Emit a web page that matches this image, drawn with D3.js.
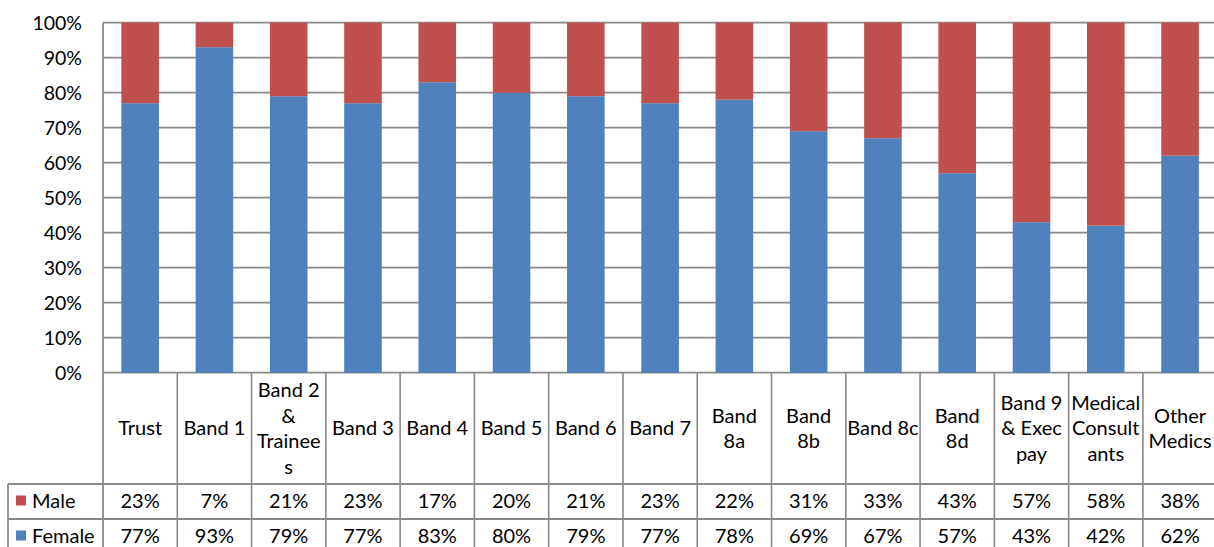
<!DOCTYPE html>
<html>
<head>
<meta charset="utf-8">
<script src="https://cdn.jsdelivr.net/npm/d3@7"></script>
<style>
  html, body { margin: 0; padding: 0; background: #fff; overflow: hidden; }
  svg { display: block; }
  text { font-family: Lato, "Noto Sans", sans-serif; fill: #000; }
</style>
</head>
<body>
<svg id="chart" width="1214" height="547"></svg>
<script>
// ---- Data ----
const categories = ["Trust", "Band 1", "Band 2 & Trainees", "Band 3", "Band 4", "Band 5", "Band 6", "Band 7",
  "Band 8a", "Band 8b", "Band 8c", "Band 8d", "Band 9 & Exec pay", "Medical Consultants", "Other Medics"];
// wrapped header lines as they appear in the table
const categoryLines = [["Trust"], ["Band 1"], ["Band 2", "&", "Trainee", "s"], ["Band 3"], ["Band 4"], ["Band 5"],
  ["Band 6"], ["Band 7"], ["Band", "8a"], ["Band", "8b"], ["Band 8c"], ["Band", "8d"], ["Band 9", "& Exec", "pay"],
  ["Medical", "Consult", "ants"], ["Other", "Medics"]];
const female = [77, 93, 79, 77, 83, 80, 79, 77, 78, 69, 67, 57, 43, 42, 62];
const male   = [23, 7, 21, 23, 17, 20, 21, 23, 22, 31, 33, 43, 57, 58, 38];
const seriesNames = ["Female", "Male"];
const seriesColors = { Female: "#4F81BD", Male: "#C0504D" };
const yTicks = [0, 10, 20, 30, 40, 50, 60, 70, 80, 90, 100];

// ---- Layout ----
const svg = d3.select("#chart");
const plotLeft = 103, plotRight = 103 + 74.28 * 15;
const plotTop = 22.7, plotBottom = 372.7;
const headerBottom = 484, rowH = 35;
const legendLeft = 8;
const gridColor = "#898989";
const axisFont = 19.5, tableFont = 20;

const x = d3.scaleBand().domain(categories).range([plotLeft, plotRight])
  .paddingInner(0.494).paddingOuter(0.247);
const y = d3.scaleLinear().domain([0, 100]).range([plotBottom, plotTop]);
const xCell = d3.scaleBand().domain(categories).range([plotLeft, plotRight]);

const rows = categories.map((c, i) => ({ cat: c, Female: female[i], Male: male[i] }));
const stack = d3.stack().keys(seriesNames)(rows);

// gridlines
svg.append("g").selectAll("line").data(yTicks).join("line")
  .attr("x1", plotLeft).attr("x2", plotRight)
  .attr("y1", d => y(d)).attr("y2", d => y(d))
  .attr("stroke", gridColor).attr("stroke-width", 1.8);

// y axis labels
svg.append("g").selectAll("text").data(yTicks).join("text")
  .attr("x", 82).attr("y", d => y(d)).attr("dy", "0.35em")
  .attr("text-anchor", "end").attr("font-size", axisFont)
  .text(d => d + "%");

// bars
svg.append("g").selectAll("g").data(stack).join("g")
  .attr("fill", d => seriesColors[d.key])
  .selectAll("rect").data(d => d).join("rect")
  .attr("x", d => x(d.data.cat))
  .attr("width", x.bandwidth())
  .attr("y", d => y(d[1]))
  .attr("height", d => y(d[0]) - y(d[1]));

// ---- Table ----
const tbl = svg.append("g");
const tableBottom = headerBottom + rowH * 2;
tbl.append("line").attr("x1", plotLeft).attr("x2", plotLeft)
  .attr("y1", plotTop).attr("y2", tableBottom)
  .attr("stroke", gridColor).attr("stroke-width", 1.8);
tbl.selectAll("line.col").data(categories.slice(1)).join("line").attr("class", "col")
  .attr("x1", d => xCell(d)).attr("x2", d => xCell(d))
  .attr("y1", plotBottom).attr("y2", tableBottom)
  .attr("stroke", gridColor).attr("stroke-width", 1.6);
[headerBottom, headerBottom + rowH].forEach(yy => {
  tbl.append("line").attr("x1", legendLeft).attr("x2", plotRight)
    .attr("y1", yy).attr("y2", yy)
    .attr("stroke", gridColor).attr("stroke-width", 1.8);
});
tbl.append("line").attr("x1", legendLeft).attr("x2", legendLeft)
  .attr("y1", headerBottom).attr("y2", tableBottom)
  .attr("stroke", gridColor).attr("stroke-width", 1.8);

// header labels
const lineH = 25.5;
const headerMid = (plotBottom + headerBottom) / 2;
categories.forEach((c, i) => {
  const lines = categoryLines[i];
  const cx = xCell(c) + xCell.bandwidth() / 2;
  const y0 = headerMid - (lines.length - 1) * lineH / 2;
  tbl.append("text").attr("text-anchor", "middle").attr("font-size", tableFont)
    .selectAll("tspan").data(lines).join("tspan")
    .attr("x", cx).attr("y", (d, j) => y0 + j * lineH).attr("dy", "0.35em")
    .text(d => d);
});

// value rows: Male, then Female
const tableRows = [{ name: "Male", values: male }, { name: "Female", values: female }];
tableRows.forEach((r, ri) => {
  const cy = headerBottom + rowH * ri + rowH / 2 - 1;
  tbl.append("rect").attr("x", 16).attr("y", cy - 5).attr("width", 10).attr("height", 10)
    .attr("fill", seriesColors[r.name]);
  tbl.append("text").attr("x", 32).attr("y", cy).attr("dy", "0.35em")
    .attr("font-size", tableFont).text(r.name);
  tbl.selectAll(null).data(categories).enter().append("text")
    .attr("x", d => xCell(d) + xCell.bandwidth() / 2).attr("y", cy).attr("dy", "0.35em")
    .attr("text-anchor", "middle").attr("font-size", tableFont)
    .text((d, i) => r.values[i] + "%");
});
</script>
</body>
</html>
